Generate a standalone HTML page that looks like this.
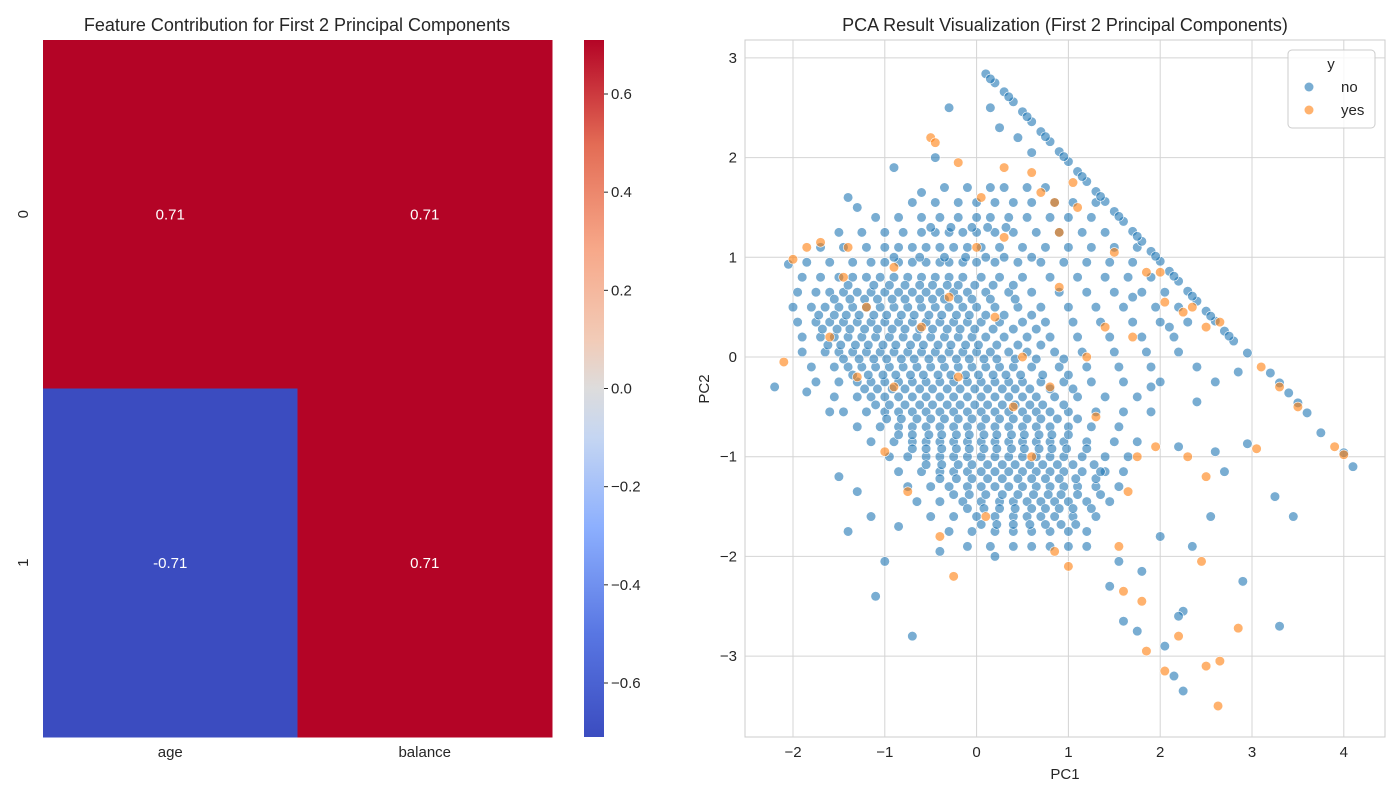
<!DOCTYPE html>
<html><head><meta charset="utf-8">
<style>
body{margin:0;background:#fff;font-family:"Liberation Sans",sans-serif;}
svg text{font-family:"Liberation Sans",sans-serif;fill:#262626;}
</style></head>
<body>
<svg id="chart" width="1400" height="800">
<defs>
<linearGradient id="cw" x1="0" y1="1" x2="0" y2="0">
<stop offset="0" stop-color="#3b4cc0"/><stop offset="0.15" stop-color="#5977e3"/>
<stop offset="0.3" stop-color="#8caffe"/><stop offset="0.43" stop-color="#c5d6f2"/>
<stop offset="0.5" stop-color="#dddcdc"/><stop offset="0.57" stop-color="#f2cbb7"/>
<stop offset="0.7" stop-color="#f7a889"/><stop offset="0.85" stop-color="#e36c55"/>
<stop offset="1" stop-color="#b40426"/></linearGradient>
</defs>
<text x="297" y="31" font-size="18" text-anchor="middle">Feature Contribution for First 2 Principal Components</text>
<g id="heat"></g>
<rect x="584" y="40" width="20" height="697" fill="url(#cw)"/>
<g id="cbticks"></g>
<text x="1065" y="31" font-size="18" text-anchor="middle">PCA Result Visualization (First 2 Principal Components)</text>
<g id="scat"></g>
<text x="1065" y="779" font-size="15" text-anchor="middle">PC1</text>
<text x="709" y="389" font-size="15" text-anchor="middle" transform="rotate(-90 709 389)">PC2</text>
<g>
<rect x="1288" y="50" width="87" height="78" rx="4" fill="#fff" fill-opacity="0.8" stroke="#ccc"/>
<text x="1331" y="69" font-size="15" text-anchor="middle">y</text>
<circle cx="1309" cy="87" r="4.5" fill="#1f77b4" fill-opacity="0.6"/>
<text x="1341" y="92" font-size="15">no</text>
<circle cx="1309" cy="110" r="4.5" fill="#ff7f0e" fill-opacity="0.6"/>
<text x="1341" y="115" font-size="15">yes</text>
</g>
</svg>
<script>
const features=["age","balance"];
const components=["0","1"];
const loadings=[[0.71,0.71],[-0.71,0.71]];
const cbTicks=[0.6,0.4,0.2,0.0,-0.2,-0.4,-0.6];
const xTicks=[-2,-1,0,1,2,3,4];
const yTicks=[3,2,1,0,-1,-2,-3];
const edgeNo=[[0.1,2.84],[0.2,2.75],[0.3,2.66],[0.4,2.56],[0.5,2.46],[0.6,2.36],[0.7,2.26],[0.8,2.16],[0.9,2.06],[1.0,1.96],[1.1,1.86],[1.2,1.76],[1.3,1.66],[1.4,1.56],[1.5,1.46],[1.6,1.36],[1.7,1.26],[1.8,1.16],[1.9,1.06],[2.0,0.96],[2.1,0.86],[2.2,0.76],[2.3,0.66],[2.4,0.56],[2.5,0.46],[2.6,0.36],[2.7,0.26],[2.8,0.16],[2.95,0.04],[3.2,-0.16],[3.4,-0.36],[3.6,-0.56],[3.75,-0.76],[4.0,-0.96],[4.1,-1.1],[0.15,2.79],[0.35,2.61],[0.55,2.41],[0.75,2.21],[0.95,2.01],[1.15,1.81],[1.35,1.61],[1.55,1.41],[1.75,1.21],[1.95,1.01],[2.15,0.81],[2.35,0.61],[2.55,0.41],[2.75,0.21],[3.3,-0.26],[3.5,-0.46]];
const outNo=[[-2.2,-0.3],[-1.1,-2.4],[-0.7,-2.8],[-1.0,-2.05],[-1.4,-1.75],[-1.3,-1.35],[-1.5,-1.2],[-1.6,-0.55],[-1.85,-0.35],[2.25,-3.35],[2.15,-3.2],[2.25,-2.55],[2.05,-2.9],[2.2,-2.6],[2.35,-1.9],[2.0,-1.8],[2.2,-0.9],[2.6,-0.95],[2.9,-2.25],[3.3,-2.7],[3.25,-1.4],[3.45,-1.6],[2.95,-0.87],[2.6,-0.25],[2.85,-0.15],[1.6,-2.65],[1.8,-2.15],[1.45,-2.3],[1.75,-2.75],[0.2,-2.0],[-0.4,-1.95],[-0.9,1.9],[-1.4,1.6],[-1.3,1.5],[-0.3,2.5],[0.15,2.5],[0.25,2.3],[0.6,2.05],[-0.6,1.65],[1.3,1.55],[1.7,0.6],[2.1,0.3],[2.4,-0.1],[2.4,-0.45],[1.9,-0.3],[-2.05,0.93],[-0.45,2.0],[0.45,2.2],[1.55,-2.05],[1.2,-1.9],[2.7,-1.15],[2.55,-1.6],[1.35,-1.15],[-1.15,-1.6],[-0.85,-1.7]];
const rowY=[1.7,1.55,1.4,1.25,1.1,0.95,0.8,0.65,0.5,0.35,0.2,0.05,-0.1,-0.25,-0.4,-0.55,-0.7,-0.85,-1.0,-1.15,-1.3,-1.45,-1.6,-1.75,-1.9];
const rowX=[
[-0.35,-0.1,0.15,0.3,0.55,0.75],
[-0.7,-0.45,-0.2,0.0,0.2,0.4,0.6,0.85,1.05],
[-1.1,-0.85,-0.6,-0.4,-0.2,0.0,0.15,0.35,0.55,0.8,1.0,1.25],
[-1.5,-1.25,-1.0,-0.8,-0.6,-0.45,-0.3,-0.15,0.0,0.2,0.4,0.65,0.9,1.15,1.4],
[-1.7,-1.45,-1.2,-1.0,-0.85,-0.7,-0.55,-0.4,-0.25,-0.1,0.05,0.25,0.5,0.75,1.0,1.25,1.5,1.75],
[-1.85,-1.6,-1.35,-1.15,-1.0,-0.85,-0.7,-0.55,-0.4,-0.3,-0.15,0.0,0.2,0.45,0.7,0.95,1.2,1.45,1.7],
[-1.9,-1.7,-1.5,-1.35,-1.2,-1.05,-0.9,-0.75,-0.6,-0.45,-0.3,-0.15,0.05,0.25,0.5,0.8,1.1,1.4,1.65,1.9],
[-1.95,-1.75,-1.6,-1.45,-1.3,-1.15,-1.0,-0.85,-0.7,-0.55,-0.4,-0.25,-0.1,0.1,0.35,0.6,0.9,1.2,1.5,1.8,2.05],
[-2.0,-1.8,-1.65,-1.5,-1.35,-1.2,-1.05,-0.9,-0.75,-0.6,-0.45,-0.3,-0.15,0.0,0.2,0.45,0.7,1.0,1.3,1.6,1.95,2.2],
[-1.95,-1.75,-1.6,-1.45,-1.3,-1.15,-1.0,-0.85,-0.7,-0.55,-0.4,-0.25,-0.1,0.05,0.25,0.5,0.75,1.05,1.35,1.7,2.0,2.3],
[-1.9,-1.7,-1.55,-1.4,-1.25,-1.1,-0.95,-0.8,-0.65,-0.5,-0.35,-0.2,-0.05,0.1,0.3,0.55,0.8,1.1,1.45,1.8,2.15],
[-1.9,-1.65,-1.5,-1.35,-1.2,-1.05,-0.9,-0.75,-0.6,-0.45,-0.3,-0.15,0.0,0.15,0.35,0.55,0.85,1.15,1.5,1.85,2.2],
[-1.8,-1.55,-1.4,-1.25,-1.1,-0.95,-0.8,-0.65,-0.5,-0.35,-0.2,-0.05,0.1,0.25,0.4,0.6,0.9,1.2,1.55,1.9],
[-1.75,-1.5,-1.3,-1.15,-1.0,-0.85,-0.7,-0.55,-0.4,-0.25,-0.1,0.05,0.2,0.35,0.5,0.7,0.95,1.25,1.6,2.0],
[-1.55,-1.3,-1.15,-1.0,-0.85,-0.7,-0.55,-0.4,-0.25,-0.1,0.05,0.2,0.35,0.5,0.65,0.85,1.1,1.4,1.75],
[-1.45,-1.2,-1.0,-0.85,-0.7,-0.55,-0.4,-0.25,-0.1,0.05,0.2,0.35,0.5,0.65,0.8,1.0,1.3,1.6,1.9],
[-1.3,-1.05,-0.85,-0.7,-0.55,-0.4,-0.25,-0.1,0.05,0.2,0.35,0.5,0.65,0.8,1.0,1.25,1.55],
[-1.15,-0.9,-0.7,-0.55,-0.4,-0.25,-0.1,0.05,0.2,0.35,0.5,0.65,0.8,0.95,1.2,1.5,1.75],
[-0.95,-0.75,-0.55,-0.4,-0.25,-0.1,0.05,0.2,0.35,0.5,0.65,0.8,0.95,1.15,1.4,1.65],
[-0.85,-0.6,-0.4,-0.25,-0.1,0.05,0.2,0.35,0.5,0.65,0.8,0.95,1.15,1.4,1.6],
[-0.75,-0.5,-0.3,-0.1,0.05,0.2,0.35,0.5,0.65,0.8,0.95,1.1,1.3,1.55],
[-0.65,-0.4,-0.15,0.05,0.25,0.4,0.55,0.7,0.85,1.0,1.2,1.45],
[-0.5,-0.25,0.0,0.2,0.4,0.55,0.7,0.85,1.05,1.3],
[-0.3,-0.05,0.2,0.4,0.6,0.8,1.0,1.2],
[-0.1,0.15,0.4,0.6,0.8,1.0]];
const coreY=[1.3,1.0,0.72,0.58,0.42,0.28,0.12,-0.02,-0.18,-0.32,-0.48,-0.62,-0.78,-0.92,-1.08,-1.22,-1.38,-1.52,-1.68];
const coreX=[
[-0.5,-0.28,-0.05,0.12,0.32],
[-0.9,-0.62,-0.35,-0.12,0.1,0.3,0.6],
[-1.4,-1.12,-0.95,-0.78,-0.62,-0.48,-0.32,-0.2,-0.02,0.18,0.4],
[-1.55,-1.38,-1.22,-1.08,-0.92,-0.78,-0.62,-0.48,-0.35,-0.2,-0.05,0.15,0.42],
[-1.72,-1.55,-1.42,-1.28,-1.12,-0.98,-0.82,-0.68,-0.52,-0.38,-0.22,-0.08,0.1,0.3,0.6],
[-1.68,-1.52,-1.38,-1.22,-1.08,-0.92,-0.78,-0.62,-0.48,-0.32,-0.18,-0.02,0.18,0.4,0.65],
[-1.62,-1.48,-1.32,-1.18,-1.02,-0.88,-0.72,-0.58,-0.42,-0.28,-0.12,0.02,0.22,0.45,0.7],
[-1.45,-1.28,-1.12,-0.98,-0.82,-0.68,-0.52,-0.38,-0.22,-0.08,0.08,0.22,0.42,0.65,0.95],
[-1.35,-1.18,-1.02,-0.88,-0.72,-0.58,-0.42,-0.28,-0.12,0.02,0.18,0.32,0.48,0.72,1.0],
[-1.22,-1.08,-0.92,-0.78,-0.62,-0.48,-0.32,-0.18,-0.02,0.12,0.28,0.42,0.58,0.8,1.05],
[-1.1,-0.95,-0.78,-0.62,-0.48,-0.32,-0.18,-0.02,0.12,0.28,0.42,0.58,0.72,0.95],
[-0.98,-0.82,-0.65,-0.5,-0.35,-0.2,-0.05,0.1,0.25,0.4,0.55,0.7,0.88,1.1],
[-0.85,-0.7,-0.52,-0.38,-0.22,-0.08,0.08,0.22,0.38,0.52,0.68,0.82,1.0],
[-0.7,-0.55,-0.38,-0.22,-0.08,0.08,0.22,0.38,0.52,0.68,0.82,0.98,1.2],
[-0.55,-0.38,-0.2,-0.05,0.12,0.28,0.42,0.58,0.72,0.88,1.05,1.28],
[-0.4,-0.22,-0.05,0.12,0.28,0.45,0.6,0.75,0.9,1.08,1.3],
[-0.25,-0.08,0.1,0.28,0.45,0.62,0.78,0.92,1.1,1.35],
[-0.1,0.08,0.25,0.42,0.6,0.75,0.9,1.05,1.25],
[0.05,0.22,0.4,0.58,0.75,0.92,1.08]];
const yesPts=[[-2.0,0.98],[-1.85,1.1],[-1.7,1.15],[-1.4,1.1],[-2.1,-0.05],[-0.5,2.2],[-0.45,2.15],[-0.2,1.95],[0.05,1.6],[0.3,1.9],[0.6,1.85],[0.7,1.65],[0.85,1.55],[1.05,1.75],[1.1,1.5],[0.9,1.25],[1.5,1.05],[1.85,0.85],[2.0,0.85],[2.05,0.55],[2.25,0.45],[2.35,0.5],[2.5,0.3],[2.65,0.35],[3.1,-0.1],[3.3,-0.3],[3.5,-0.5],[3.9,-0.9],[4.0,-0.98],[3.05,-0.92],[2.3,-1.0],[2.5,-1.2],[1.75,-1.0],[1.95,-0.9],[1.65,-1.35],[1.55,-1.9],[1.6,-2.35],[1.8,-2.45],[1.85,-2.95],[2.05,-3.15],[2.2,-2.8],[2.5,-3.1],[2.65,-3.05],[2.63,-3.5],[2.85,-2.72],[2.45,-2.05],[1.0,-2.1],[0.85,-1.95],[0.1,-1.6],[-0.25,-2.2],[-0.75,-1.35],[-1.0,-0.95],[-0.4,-1.8],[-1.45,0.8],[-1.2,0.5],[-0.9,0.9],[-0.6,0.3],[-0.3,0.6],[0.2,0.4],[0.5,0.0],[0.4,-0.5],[0.8,-0.3],[1.2,0.0],[1.3,-0.6],[0.9,0.7],[-0.2,-0.2],[-0.9,-0.3],[0.6,-1.0],[1.4,0.3],[-1.6,0.2],[-1.3,-0.2],[0.0,1.1],[0.3,1.2],[1.7,0.2]];

const NS="http://www.w3.org/2000/svg";
function mk(tag,attrs,parent){const e=document.createElementNS(NS,tag);for(const k in attrs)e.setAttribute(k,attrs[k]);parent.appendChild(e);return e;}
const hx0=43,hx1=552,hy0=40,hy1=737,vmin=-0.71,vmax=0.71;
const cw=(hx1-hx0)/features.length,ch=(hy1-hy0)/components.length;
const heat=document.getElementById('heat');
function cmap(v){return v>0?"#b40426":"#3b4cc0";}
components.forEach((c,i)=>{features.forEach((f,j)=>{
  const v=loadings[i][j];
  const r=mk('rect',{x:hx0+j*cw,y:hy0+i*ch,width:cw+0.5,height:ch+0.5,fill:cmap(v)},heat);
  
  
  const t=mk('text',{x:hx0+(j+0.5)*cw,y:hy0+(i+0.5)*ch+5,'font-size':15,'text-anchor':'middle',fill:'#fff',style:'fill:#fff'},heat);
  t.textContent=v.toFixed(2);
  
  
});
  const yl=mk('text',{x:28,y:hy0+(i+0.5)*ch,'font-size':15,'text-anchor':'middle',transform:`rotate(-90 28 ${hy0+(i+0.5)*ch})`},heat);
  yl.textContent=c;
  
  
});
features.forEach((f,j)=>{
  const t=mk('text',{x:hx0+(j+0.5)*cw,y:757,'font-size':15,'text-anchor':'middle'},heat);
  t.textContent=f;
  
  
});
const cb=document.getElementById('cbticks');
cbTicks.forEach(v=>{
  const y=hy1-(v-vmin)/(vmax-vmin)*(hy1-hy0);
  mk('line',{x1:604,x2:608,y1:y,y2:y,stroke:'#262626'},cb);
  const t=mk('text',{x:611,y:y+5,'font-size':15},cb);
  t.textContent=(v<0?"\u2212":"")+Math.abs(v).toFixed(1);
  
  
});
const ax0=745,ax1=1385,ay0=40,ay1=737;
const X=v=>976.6+v*91.8, Y=v=>357-v*99.7;
const sc=document.getElementById('scat');
mk('rect',{x:ax0,y:ay0,width:ax1-ax0,height:ay1-ay0,fill:'#fff',stroke:'#ccc'},sc);
xTicks.forEach(v=>{
  mk('line',{x1:X(v),x2:X(v),y1:ay0,y2:ay1,stroke:'#d4d4d4'},sc);
  const t=mk('text',{x:X(v),y:757,'font-size':15,'text-anchor':'middle'},sc);
  t.textContent=(v<0?"\u2212":"")+Math.abs(v);
  
  
});
yTicks.forEach(v=>{
  mk('line',{x1:ax0,x2:ax1,y1:Y(v),y2:Y(v),stroke:'#d4d4d4'},sc);
  const t=mk('text',{x:737,y:Y(v)+5,'font-size':15,'text-anchor':'end'},sc);
  t.textContent=(v<0?"\u2212":"")+Math.abs(v);
  
  
});
function dot(x,y,col){
  const c=mk('circle',{cx:X(x),cy:Y(y),r:4.8,fill:col,'fill-opacity':0.6,stroke:'#fff','stroke-width':0.6},sc);
  
  
}
rowY.forEach((y,i)=>rowX[i].forEach(x=>dot(x,y,'#1f77b4')));
coreY.forEach((y,i)=>coreX[i].forEach(x=>dot(x,y,'#1f77b4')));
outNo.forEach(p=>dot(p[0],p[1],'#1f77b4'));
edgeNo.forEach(p=>dot(p[0],p[1],'#1f77b4'));
yesPts.forEach(p=>dot(p[0],p[1],'#ff7f0e'));
</script>
</body></html>
